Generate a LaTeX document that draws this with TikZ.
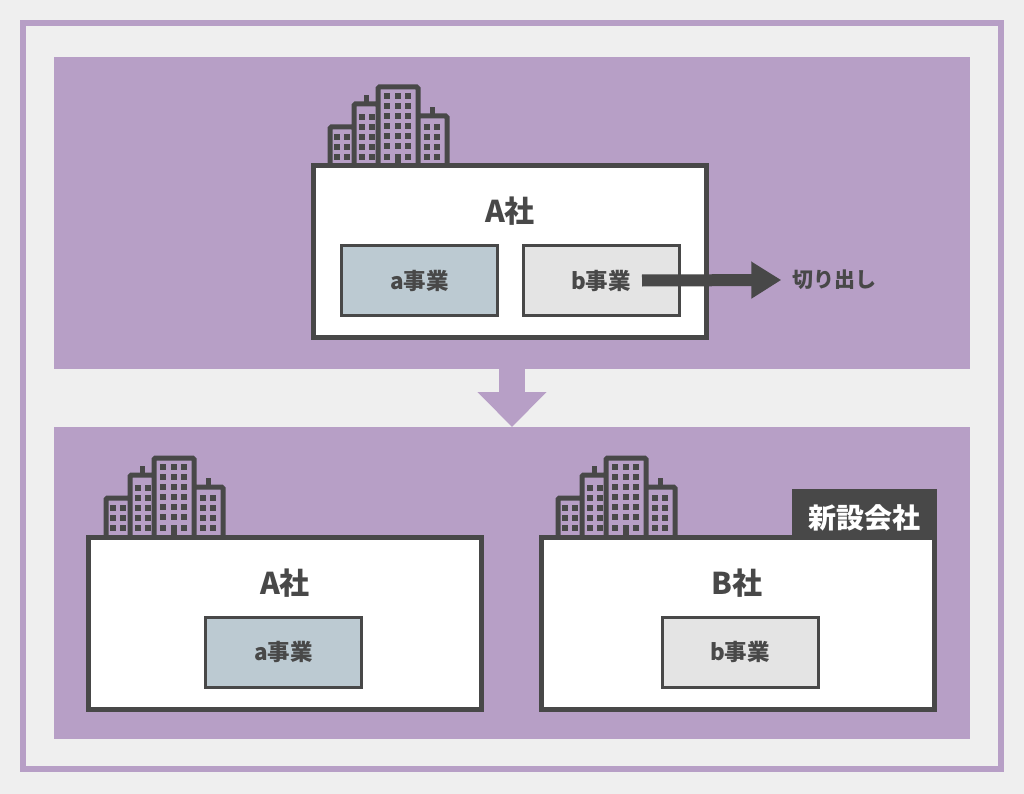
\documentclass[tikz,border=0pt]{standalone}
\usepackage{fontspec}
\usepackage{tikz}
\usetikzlibrary{arrows.meta}
\setmainfont{Noto Sans CJK JP}
\definecolor{dark}{HTML}{484848}
\definecolor{violet}{HTML}{B79FC6}
\definecolor{back}{HTML}{EFEFEF}
\definecolor{bizA}{HTML}{BCCAD2}
\definecolor{bizB}{HTML}{E4E4E4}
\newcommand{\fsize}[1]{\fontsize{#1}{#1}\selectfont}
\tikzset{
  towers/.pic = {
    \draw[dark, line width=5pt, fill=violet, rounded corners=1.5pt]
      (2,0) -- (2,-38) -- (26,-38) -- (26,0)
      (26,0) -- (26,-61) -- (50,-61) -- (50,0)
      (50,0) -- (50,-78) -- (90,-78) -- (90,0)
      (90,0) -- (90,-49) -- (119,-49) -- (119,0);
    \draw[dark, line width=5pt] (38,-61) -- (38,-70) (104.5,-49) -- (104.5,-58);
    \foreach \x in {9,19} \foreach \y in {-8,-18,-28} \fill[dark] (\x-3,\y-3) rectangle +(6,6);
    \foreach \x in {34,44} \foreach \y in {-8,-18,-28,-38,-48} \fill[dark] (\x-3,\y-3) rectangle +(6,6);
    \foreach \x in {59,69.5,80} \foreach \y in {-19,-29,-39,-49,-59,-69} \fill[dark] (\x-3,\y-3) rectangle +(6,6);
    \foreach \x in {59,80} \fill[dark] (\x-3,-11) rectangle +(6,6);
    \fill[dark] (66.5,-11) rectangle (72.5,0);
    \foreach \x in {99,109} \foreach \y in {-8,-18,-28,-38} \fill[dark] (\x-3,\y-3) rectangle +(6,6);
  }
}
\begin{document}
\begin{tikzpicture}[x=1pt, y=-1pt, node distance=181.5pt,
  panel/.style = {fill=violet, minimum width=916pt, minimum height=312pt, inner sep=0pt, outer sep=0pt},
  company/.style = {draw=dark, fill=white, line width=5pt, minimum width=393pt, minimum height=172pt},
  unit/.style = {draw=dark, line width=3pt, minimum width=156pt, minimum height=70pt, text=dark, font=\fsize{22.5}\bfseries},
  title/.style = {text=dark, font=\fsize{30}\bfseries, inner sep=0pt},
  bigarrow/.style = {dark, line width=12pt, -{Triangle[length=30pt, width=35pt]}},
  nextarrow/.style = {violet, line width=26pt, -{Triangle[length=35pt, width=67pt]}}]
\useasboundingbox[fill=back] (0,0) rectangle (1024,794);
\node[draw=violet, line width=6pt, minimum width=978pt, minimum height=746pt, inner sep=0pt] (border) at (512,396) {};
\node[panel] (before) at (512,213) {};
\node[panel] (after) at (512,583) {};
\draw[nextarrow] (before) -- (after.north);
% before
\pic at (328,165) {towers};
\node[company] (comp) at (509.5,251.5) {};
\node[title] (compname) at (510,211) {A社};
\node[unit, fill=bizA] (a1) at (419.5,280.5) {a事業};
\node[unit, fill=bizB] (b1) [right of=a1] {b事業};
\node[text=dark, font=\fsize{21}\bfseries, inner sep=11pt] (cut) at (834.5,280) {切り出し};
\draw[bigarrow] ([xshift=41pt]b1.center) -- (cut.west);
% after
\pic at (104,536) {towers};
\pic at (556,536) {towers};
\node[fill=dark, text=white, font=\fsize{28}\bfseries, minimum width=145pt, minimum height=57pt, inner sep=0pt, outer sep=0pt] (newco) at (864.5,517.5) {新設会社};
\node[company] (compa) at (285,623.5) {};
\node[company] (compb) at (737.5,623.5) {};
\node[title] (namea) at (285,583) {A社};
\node[title] (nameb) at (737,583) {B社};
\node[unit, fill=bizA] (a2) at (283.5,652) {a事業};
\node[unit, fill=bizB] (b2) at (740,652) {b事業};
\end{tikzpicture}
\end{document}
